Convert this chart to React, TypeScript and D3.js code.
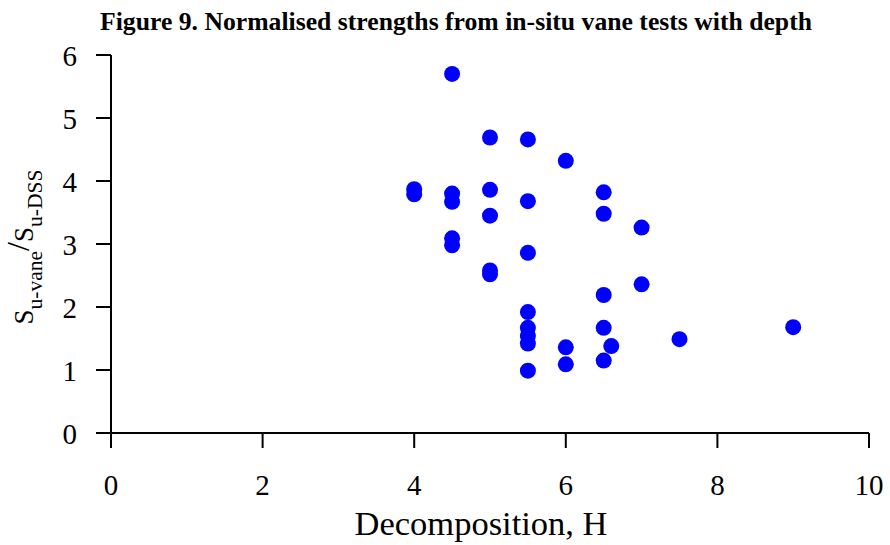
import React from "react";
import * as d3 from "d3";

const decomposition = [4.5, 5.0, 5.5, 6.0, 4.0, 4.0, 4.5, 4.5, 5.0, 5.5, 6.5, 6.5, 7.0, 5.0, 4.5, 4.5, 5.5, 5.0, 5.0, 6.5, 7.0, 5.5, 5.5, 5.5, 5.5, 6.0, 6.0, 6.5, 6.6, 6.5, 5.5, 7.5, 9.0];
const strengthRatio = [5.70, 4.69, 4.66, 4.32, 3.87, 3.79, 3.80, 3.67, 3.86, 3.68, 3.82, 3.48, 3.26, 3.45, 3.09, 2.98, 2.86, 2.58, 2.52, 2.19, 2.36, 1.92, 1.67, 1.54, 1.42, 1.36, 1.09, 1.67, 1.38, 1.15, 0.99, 1.49, 1.68];
const xTicks = [0, 2, 4, 6, 8, 10];
const yTicks = [0, 1, 2, 3, 4, 5, 6];

const W = 890, H = 545;
const left = 111, right = 869, top = 55, bottom = 433;

export default function App() {
  const x = d3.scaleLinear().domain([0, 10]).range([left, right]);
  const y = d3.scaleLinear().domain([0, 6]).range([bottom, top]);
  const font = "'Liberation Serif', 'Times New Roman', serif";
  return (
    <svg width={W} height={H} style={{ position: "absolute", left: 0, top: 0, background: "#fff" }} fontFamily={font}>
      <text x={456} y={30} textAnchor="middle" fontSize={25.5} fontWeight="bold" textLength={712} lengthAdjust="spacingAndGlyphs">
        Figure 9. Normalised strengths from in-situ vane tests with depth
      </text>
      {/* axes */}
      <line x1={left} x2={left} y1={top} y2={bottom + 15} stroke="#000" strokeWidth={2} />
      <line x1={left - 15} x2={right} y1={bottom} y2={bottom} stroke="#000" strokeWidth={2} />
      {yTicks.map((t) => (
        <g key={"y" + t}>
          <line x1={left - 15} x2={left} y1={y(t)} y2={y(t)} stroke="#000" strokeWidth={2} />
          <text x={77} y={y(t) + 11} textAnchor="end" fontSize={29}>{t}</text>
        </g>
      ))}
      {xTicks.map((t) => (
        <g key={"x" + t}>
          <line x1={x(t)} x2={x(t)} y1={bottom} y2={bottom + 15} stroke="#000" strokeWidth={2} />
          <text x={x(t)} y={495} textAnchor="middle" fontSize={29}>{t}</text>
        </g>
      ))}
      <text x={481} y={535} textAnchor="middle" fontSize={34.5}>Decomposition, H</text>
      <text transform="translate(33,247) rotate(-90)" textAnchor="middle" fontSize={27}>
        <tspan>S</tspan>
        <tspan fontSize={21.5} dy={9}>u-vane</tspan>
        <tspan dy={-13} fontSize={32}>/</tspan>
        <tspan dy={4}>S</tspan>
        <tspan fontSize={21.5} dy={9}>u-DSS</tspan>
      </text>
      {decomposition.map((d, i) => (
        <circle key={i} cx={x(d)} cy={y(strengthRatio[i])} r={8} fill="#0000ff" />
      ))}
    </svg>
  );
}
